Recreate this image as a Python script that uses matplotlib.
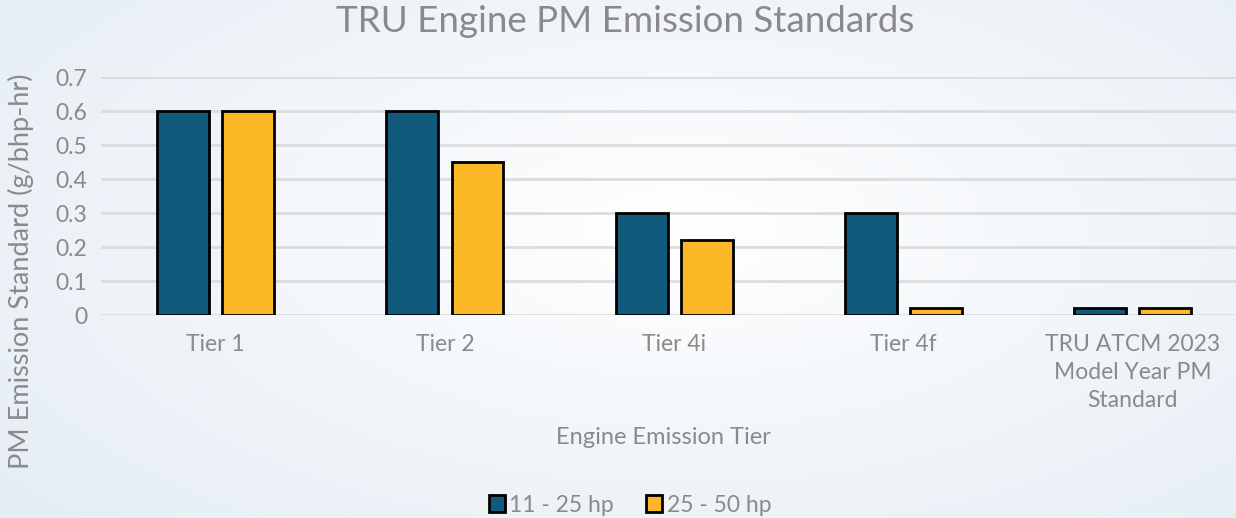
import numpy as np
import matplotlib.pyplot as plt

categories = ['Tier 1', 'Tier 2', 'Tier 4i', 'Tier 4f',
              'TRU ATCM 2023\nModel Year PM\nStandard']
hp_11_25 = [0.6, 0.6, 0.3, 0.3, 0.02]
hp_25_50 = [0.6, 0.45, 0.22, 0.02, 0.02]
series_names = ['11 - 25 hp', '25 - 50 hp']
yticks = [0, 0.1, 0.2, 0.3, 0.4, 0.5, 0.6, 0.7]
ytick_labels = ['0', '0.1', '0.2', '0.3', '0.4', '0.5', '0.6', '0.7']

plt.rcParams['font.family'] = ['Lato', 'DejaVu Sans']
gris = '#8a8a8a'

W, H = 1236, 518
fig = plt.figure(figsize=(W / 100, H / 100), dpi=100)

# fondo con degradado suave
bg = fig.add_axes([0, 0, 1, 1], zorder=-10)
yy, xx = np.mgrid[0:1:200j, 0:1:400j]
d = np.sqrt(((xx - 0.55) / 0.7) ** 2 + ((yy - 0.45) / 0.8) ** 2)
d = np.clip(d, 0, 1)
c0 = np.array([1.0, 1.0, 1.0])
c1 = np.array([0.90, 0.93, 0.96])
img = c0[None, None, :] * (1 - d[..., None]) + c1[None, None, :] * d[..., None]
bg.imshow(img, aspect='auto', extent=[0, 1, 0, 1])
bg.axis('off')

ax = fig.add_axes([101 / W, 1 - 315 / H, (W - 101) / W, (315 - 77) / H])
ax.patch.set_alpha(0)

x = np.arange(len(categories))
w = 0.226
off = 0.142
ax.bar(x - off, hp_11_25, w, color='#115a7c', edgecolor='black', linewidth=2,
       label=series_names[0], zorder=3)
ax.bar(x + off, hp_25_50, w, color='#fdb827', edgecolor='black', linewidth=2,
       label=series_names[1], zorder=3)

ax.set_xlim(-0.5, 4.45)
ax.set_ylim(0, 0.7)
ax.set_yticks(yticks)
ax.set_yticklabels(ytick_labels)
ax.set_xticks(x)
ax.set_xticklabels(categories, linespacing=1.4)
ax.grid(axis='y', color='#dcdcdc', linewidth=2, zorder=0)
for s in ax.spines.values():
    s.set_visible(False)
ax.tick_params(axis='both', length=0, labelsize=16.5, labelcolor=gris)
ax.tick_params(axis='x', pad=14)
ax.tick_params(axis='y', pad=10)

fig.text(625 / W, 1 - 22 / H, 'TRU Engine PM Emission Standards', ha='center',
         va='center', fontsize=26.5, color=gris)
fig.text(663 / W, 1 - 437 / H, 'Engine Emission Tier', ha='center', va='center',
         fontsize=17, color=gris)
fig.text(21 / W, 1 - 271 / H, 'PM Emission Standard (g/bhp-hr)', ha='center',
         va='center', rotation=90, fontsize=19.5, color=gris)

leg = fig.legend(loc='center', bbox_to_anchor=(630 / W, 1 - 505 / H), ncol=2,
                 frameon=False, fontsize=16.5, handlelength=0.7, handleheight=0.7,
                 handletextpad=0.2, columnspacing=1.4)
for t in leg.get_texts():
    t.set_color(gris)

fig.savefig('out.png', dpi=100)
